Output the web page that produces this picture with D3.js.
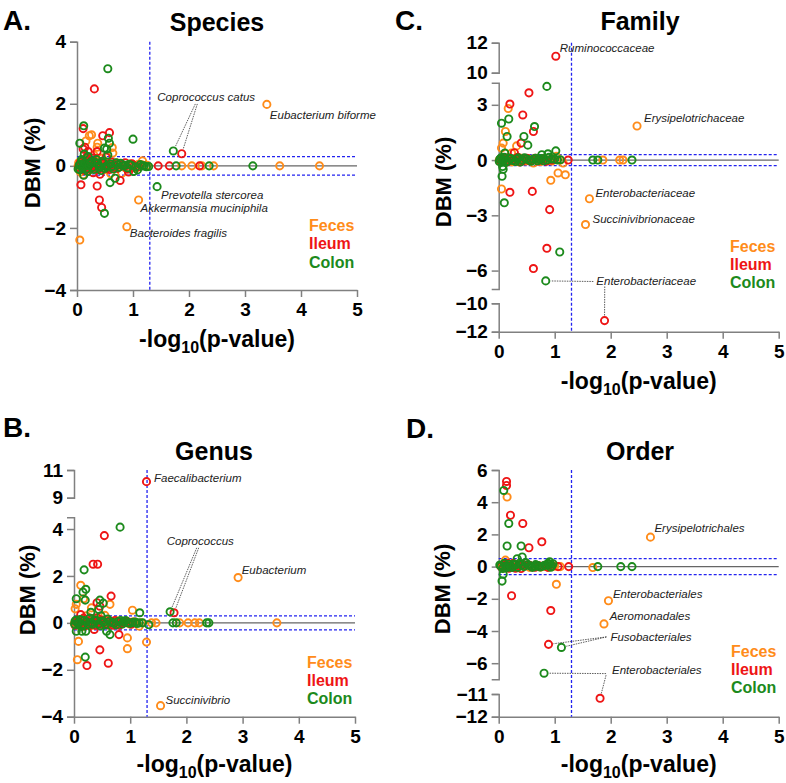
<!DOCTYPE html>
<html><head><meta charset="utf-8">
<script src="https://cdn.jsdelivr.net/npm/d3@7"></script>
<style>
body{margin:0;background:#fff}
svg{display:block}
text{font-family:Arial,"Liberation Sans",Helvetica,sans-serif}
</style>
</head><body>
<svg id="chart" width="786" height="783"></svg>
<script>
// ---------------- DATA ----------------
const seriesNames = ["Feces", "Ileum", "Colon"];
const seriesColors = ["#FF8C1A", "#EE1515", "#1C8A1C"];
const xTicks = [0, 1, 2, 3, 4, 5];
const pThreshold = 1.3;

// Panel A: Species  [ -log10(p), DBM ]
const speciesFeces = [[3.39,1.98],[1.1,-1.1],[0.89,-1.96],[0.05,-2.39],[1.17,0.16],[0.22,0.97],[0.26,1.0],[0.37,0.73],[0.36,0.6],[0.63,0.59],[0.64,0.41],[0.16,0.8],[1.87,0],[2.05,0],[2.23,0],[2.44,0],[3.62,0],[4.33,0],[1.16,0.03],[0.8,-0.24],[0.11,-0.29],[0.03,0.1],[0.08,-0.05],[0.14,0.12],[0.2,-0.15],[0.27,0.05],[0.33,-0.1],[0.42,0.08],[0.5,-0.12],[0.57,0.04],[0.7,0.1],[0.85,-0.05],[0.95,0.06],[1.05,-0.08],[1.25,0.02],[0.18,0.22],[0.45,0.25],[0.06,-0.2],[0.6,-0.25],[0.3,0.35],
  [0.02,0.0],[0.07,0.08],[0.1,-0.12],[0.13,0.0],[0.17,-0.08],[0.24,0.12],[0.29,-0.02],[0.31,0.15],[0.4,-0.05],[0.47,0.0],[0.53,0.1],[0.66,-0.06],[0.76,0.02],[0.9,-0.1],[1.0,0.02],[1.1,0.05]];
const speciesIleum = [[0.31,2.48],[1.87,0.39],[0.11,1.2],[0.46,0.97],[0.58,1.07],[0.2,0.46],[0.36,0.46],[0.11,0.54],[0.18,0.3],[1.45,0],[1.65,0],[2.19,0],[0.07,-0.61],[0.36,-0.65],[0.4,-1.1],[0.44,-1.34],[0.77,-0.47],[0.92,-0.2],[0.29,-0.22],[0.41,-0.27],[0.05,0.05],[0.12,-0.1],[0.16,0.15],[0.22,-0.05],[0.25,0.1],[0.33,0.02],[0.38,-0.12],[0.48,0.06],[0.55,-0.08],[0.62,0.12],[0.68,-0.04],[0.74,0.05],[0.82,0.03],[0.9,-0.1],[0.98,0.07],[1.1,-0.03],[0.14,0.6],[0.27,0.25],[0.52,0.28],
  [0.03,-0.05],[0.06,0.12],[0.09,0.0],[0.14,-0.15],[0.19,0.05],[0.21,0.18],[0.24,-0.1],[0.3,0.06],[0.35,-0.05],[0.43,0.12],[0.5,0.0],[0.58,-0.12],[0.65,0.04],[0.72,-0.08],[0.86,0.1],[1.02,0.0]];
const speciesColon = [[0.55,3.13],[1.72,0.48],[1.43,-0.67],[0.12,1.29],[0.56,0.89],[0.58,0.73],[1.0,0.86],[0.05,0.73],[0.49,0.57],[0.53,0.54],[0.55,0.35],[0.13,0.38],[1.77,0],[2.36,0],[3.14,0],[1.01,-0.18],[1.24,-0.03],[1.2,0],[1.28,-0.02],[1.08,-0.13],[0.59,-0.54],[0.68,-0.4],[0.49,-1.53],[0.05,-0.13],[0.04,0.02],[0.09,0.15],[0.1,-0.08],[0.15,0.05],[0.19,-0.18],[0.23,0.08],[0.28,-0.05],[0.32,0.12],[0.39,0.0],[0.43,-0.15],[0.47,0.1],[0.52,-0.02],[0.6,0.06],[0.65,-0.1],[0.72,0.03],[0.78,0.08],[0.86,0.02],[0.93,0.05],[1.13,0.04],[0.2,0.3],[0.12,-0.3],[0.35,0.2],
  [0.02,-0.1],[0.06,0.05],[0.08,0.2],[0.11,-0.02],[0.14,0.1],[0.17,-0.1],[0.21,0.0],[0.26,0.15],[0.3,-0.12],[0.37,0.08],[0.41,-0.05],[0.45,0.15],[0.5,-0.08],[0.55,0.02],[0.62,-0.02],[0.7,0.1],[0.75,-0.05],[0.82,0.0],[0.9,-0.06],[0.97,0.02],[1.05,-0.04],[1.17,0.0]];

// Panel B: Genus
const genusFeces = [[2.92,1.93],[1.54,-3.53],[0.12,1.6],[0.17,1.03],[0.04,0.79],[0.02,0.6],[0.64,0.79],[0.31,0.64],[1.04,0.54],[1.29,-0.82],[0.08,-0.79],[0.95,-0.64],[0.95,-1.1],[0.06,-1.57],[1.16,-0.14],[1.38,0],[1.46,0],[1.88,0],[2.03,0],[2.15,0],[2.23,0],[3.61,0],[0.03,0.05],[0.08,-0.1],[0.13,0.12],[0.19,-0.05],[0.25,0.08],[0.3,-0.12],[0.36,0.04],[0.42,0.15],[0.5,-0.06],[0.58,0.1],[0.66,-0.03],[0.74,0.06],[0.82,-0.08],[0.9,0.03],[1.0,-0.05],[1.1,0.02],[0.22,0.3],[0.55,0.32],
  [0.01,0.0],[0.05,0.12],[0.1,0.0],[0.16,-0.15],[0.21,0.05],[0.27,-0.03],[0.33,0.1],[0.39,-0.08],[0.45,0.02],[0.53,0.05],[0.62,-0.1],[0.7,0.0],[0.78,0.08],[0.86,-0.02],[0.95,0.0],[1.06,0.05],[1.2,0.0]];
const genusIleum = [[1.29,10.16],[0.54,3.72],[0.34,2.5],[0.42,2.5],[0.66,1.14],[0.41,0.86],[0.46,0.71],[1.78,0.43],[0.46,-1.15],[0.8,-0.5],[0.23,-1.82],[0.61,-1.72],[0.05,0.02],[0.1,-0.08],[0.15,0.1],[0.2,-0.12],[0.26,0.05],[0.32,0.18],[0.38,-0.1],[0.44,0.06],[0.5,0.12],[0.56,-0.05],[0.63,0.08],[0.7,-0.1],[0.77,0.04],[0.85,-0.02],[0.93,0.06],[1.02,-0.06],[0.12,0.35],[0.36,-0.28],
  [0.02,-0.1],[0.07,0.08],[0.12,-0.02],[0.17,0.2],[0.23,0.0],[0.29,-0.08],[0.34,0.05],[0.41,0.22],[0.47,-0.05],[0.53,0.0],[0.6,-0.08],[0.67,0.04],[0.73,0.1],[0.8,-0.1],[0.88,0.0],[0.97,0.04]];
const genusColon = [[0.82,4.08],[0.18,2.26],[0.21,1.43],[0.16,1.31],[0.04,1.03],[0.2,0.97],[0.46,0.97],[0.52,0.84],[0.44,0.57],[1.17,0.43],[1.71,0.47],[1.76,0],[1.82,0],[2.36,0],[2.4,0],[1.33,-0.08],[1.22,0],[0.04,-0.36],[0.14,-0.36],[0.21,-0.36],[0.58,-0.36],[0.64,-0.5],[0.2,-1.46],[0.02,0.08],[0.07,-0.04],[0.11,0.14],[0.16,-0.1],[0.22,0.05],[0.28,0.2],[0.33,-0.06],[0.4,0.1],[0.47,-0.12],[0.53,0.04],[0.6,0.16],[0.68,0.02],[0.75,-0.08],[0.83,0.1],[0.88,0.05],[0.96,0.0],[1.05,0.02],[1.12,-0.03],[0.3,0.45],[0.48,0.3],
  [0.01,-0.05],[0.04,0.12],[0.09,0.0],[0.13,-0.15],[0.18,0.1],[0.25,-0.05],[0.31,0.0],[0.36,0.12],[0.43,-0.05],[0.5,0.08],[0.56,-0.06],[0.63,0.05],[0.71,-0.02],[0.79,0.06],[0.86,-0.05],[0.92,0.1],[1.0,-0.02],[1.09,0.03],[1.16,0.0]];

// Panel C: Family
const familyFeces = [[2.47,1.85],[1.62,-2.1],[1.55,-3.5],[0.17,2.8],[0.12,1.55],[0.08,0.92],[0.05,0.65],[0.32,0.77],[0.23,0.38],[1.03,0.2],[1.15,-0.16],[1.06,-0.7],[1.19,-0.8],[0.93,-1.1],[0.05,-1.57],[1.86,0],[2.16,0],[2.22,0],[0.62,-0.16],[0.03,0.05],[0.09,-0.08],[0.15,0.1],[0.2,-0.04],[0.27,0.06],[0.36,-0.1],[0.44,0.04],[0.52,0.08],[0.7,-0.05],[0.8,0.05],[0.9,-0.02],[0.98,0.1],
  [0.01,0.0],[0.06,0.12],[0.11,0.0],[0.18,0.08],[0.24,-0.1],[0.31,0.0],[0.4,0.1],[0.48,-0.05],[0.57,0.0],[0.65,0.06],[0.75,-0.08],[0.85,0.02],[0.95,-0.05],[1.1,0.0]];
const familyIleum = [[1.02,11.1],[0.54,3.65],[0.2,3.04],[0.43,2.45],[0.62,1.55],[0.4,0.92],[1.24,0],[0.2,-1.75],[0.6,-1.7],[0.91,-2.69],[0.86,-4.79],[0.62,-5.89],[1.89,-11.22],[0.06,0.03],[0.12,-0.06],[0.18,0.12],[0.25,0.0],[0.31,0.08],[0.38,-0.1],[0.47,0.05],[0.55,-0.04],[0.65,0.1],[0.75,0.02],[0.85,-0.06],[0.28,0.4],
  [0.03,-0.04],[0.09,0.1],[0.15,-0.1],[0.21,0.05],[0.28,0.0],[0.34,0.15],[0.42,-0.05],[0.5,0.1],[0.6,0.0],[0.7,-0.05],[0.8,0.08],[0.95,0.0]];
const familyColon = [[0.86,4.0],[0.18,2.23],[0.05,2.0],[0.64,1.82],[0.15,1.28],[0.45,1.28],[0.52,0.81],[1.02,0.5],[0.88,0.34],[0.77,0.29],[0.11,0.38],[1.68,0],[1.77,0],[2.38,0],[0.06,-0.88],[0.07,-0.35],[0.1,-2.32],[1.09,-4.99],[0.84,-6.56],[0.02,0.04],[0.07,-0.1],[0.1,0.15],[0.16,-0.05],[0.22,0.08],[0.3,-0.08],[0.35,0.12],[0.42,0.02],[0.5,0.06],[0.58,-0.06],[0.66,0.1],[0.72,0.04],[0.8,-0.04],[0.94,0.06],[1.05,0.0],[0.08,-0.5],
  [0.01,-0.08],[0.04,0.12],[0.09,0.0],[0.13,-0.12],[0.19,0.1],[0.25,-0.02],[0.33,0.05],[0.39,-0.1],[0.46,0.12],[0.54,0.0],[0.62,0.05],[0.69,-0.04],[0.77,0.08],[0.86,0.0],[0.9,0.15],[1.0,0.05],[1.1,0.02]];

// Panel D: Order
const orderFeces = [[2.71,1.83],[1.96,-2.12],[1.88,-3.56],[0.15,4.32],[0.12,0.4],[1.03,-1.1],[1.68,-0.06],[1.1,0],[0.6,0.0],[0.05,0.05],[0.1,-0.08],[0.2,0.1],[0.3,-0.05],[0.45,0.06],[0.75,-0.03],[0.92,0.04],
  [0.08,0.12],[0.16,-0.05],[0.25,0.0],[0.38,0.1],[0.55,-0.05],[0.85,0.0],[1.0,0.03]];
const orderIleum = [[0.14,5.29],[0.14,5.04],[0.21,3.19],[0.43,2.68],[0.77,1.54],[0.54,1.17],[1.06,0],[1.25,0],[0.23,-1.81],[0.93,-2.73],[0.89,-4.83],[1.81,-11.19],[0.04,0.0],[0.12,0.12],[0.18,-0.1],[0.26,0.2],[0.35,0.05],[0.4,-0.12],[0.55,0.08],[0.65,-0.04],[0.82,0.06],[0.95,0.02],
  [0.08,-0.08],[0.16,0.2],[0.22,0.02],[0.3,-0.1],[0.46,0.1],[0.6,0.0],[0.72,0.05],[0.88,-0.05]];
const orderColon = [[0.09,4.73],[0.18,2.68],[0.15,1.28],[0.4,1.28],[0.33,0.49],[0.42,0.6],[0.91,0.3],[0.88,0.2],[1.77,0],[2.18,0],[2.38,0],[0.06,-0.9],[0.08,-0.47],[1.12,-5.02],[0.81,-6.62],[0.02,0.1],[0.07,-0.12],[0.13,0.05],[0.19,0.15],[0.24,-0.06],[0.3,0.1],[0.37,0.2],[0.45,0.0],[0.52,0.12],[0.6,-0.05],[0.7,0.06],[0.78,0.02],[0.85,0.1],[0.95,0.05],[0.64,0.0],
  [0.04,0.05],[0.1,0.2],[0.16,-0.05],[0.21,0.0],[0.27,0.15],[0.34,-0.05],[0.41,0.1],[0.48,0.25],[0.56,0.05],[0.66,0.12],[0.74,-0.02],[0.82,0.08],[0.9,0.15],[0.93,-0.04],[0.97,0.18]];

// y tick labels per axis segment
const speciesTicks = [[-4,-2,0,2,4]];
const genusTicks = [[9,11],[-4,-2,0,2,4]];
const familyTicks = [[10,12],[-6,-3,0,3],[-12,-10]];
const orderTicks = [[-6,-4,-2,0,2,4,6],[-12,-11]];

// annotation labels
const speciesNotes = [
  {t:"Coprococcus catus", at:[1.72,0.48], links:[[1.72,0.48],[1.87,0.39]]},
  {t:"Eubacterium biforme", at:[3.39,1.98]},
  {t:"Prevotella stercorea", at:[1.43,-0.67]},
  {t:"Akkermansia muciniphila", at:[1.1,-1.1]},
  {t:"Bacteroides fragilis", at:[0.89,-1.96]}
];
const genusNotes = [
  {t:"Faecalibacterium", at:[1.29,10.16]},
  {t:"Coprococcus", at:[1.71,0.47], links:[[1.71,0.47],[1.78,0.43]]},
  {t:"Eubacterium", at:[2.92,1.93]},
  {t:"Succinivibrio", at:[1.54,-3.53]}
];
const familyNotes = [
  {t:"Ruminococcaceae", at:[1.02,11.1]},
  {t:"Erysipelotrichaceae", at:[2.47,1.85]},
  {t:"Enterobacteriaceae", at:[1.62,-2.1]},
  {t:"Succinivibrionaceae", at:[1.55,-3.5]},
  {t:"Enterobacteriaceae", at:[0.84,-6.56], links:[[0.84,-6.56],[1.89,-11.22]]}
];
const orderNotes = [
  {t:"Erysipelotrichales", at:[2.71,1.83]},
  {t:"Enterobacteriales", at:[1.96,-2.12]},
  {t:"Aeromonadales", at:[1.88,-3.56]},
  {t:"Fusobacteriales", at:[1.12,-5.02], links:[[0.89,-4.83],[1.12,-5.02]]},
  {t:"Enterobacteriales", at:[0.81,-6.62], links:[[0.81,-6.62],[1.81,-11.19]]}
];

// ---------------- LAYOUT ----------------
const panels = [
  {letter:"A.", lx:3, ly:30, title:"Species", tx:217, ty:31, x0:77, x1:357,
   segs:[{d:[-4,4], r:[290,41.7]}], ticks:speciesTicks, thr:0.3, xlOff:57,
   ylx:32, yly:163, legX:309, legY:[230.5,248.5,267.5],
   data:[speciesFeces, speciesIleum, speciesColon], notes:speciesNotes,
   noteOff:[{dx:-16,dy:-50,from:[[38,3],[40,3]]},{dx:3,dy:15},{dx:4,dy:12},{dx:2,dy:12},{dx:3,dy:10}]},
  {letter:"B.", lx:3, ly:437, title:"Genus", tx:214, ty:460, x0:74, x1:355,
   segs:[{d:[9,11], r:[497.7,470]},{d:[-4,4.5], r:[716.7,517.3]}], ticks:genusTicks, thr:0.3, xlOff:55,
   ylx:27, yly:590, legX:307, legY:[668,685.5,704],
   data:[genusFeces, genusIleum, genusColon], notes:genusNotes,
   noteOff:[{dx:7.5,dy:0},{dx:-3.4,dy:-67,from:[[30,3],[32,3]]},{dx:3.6,dy:-4},{dx:5,dy:-1.5}]},
  {letter:"C.", lx:395, ly:30, title:"Family", tx:640, ty:30, x0:498.7, x1:778.7,
   segs:[{d:[10,12], r:[72.7,42.7]},{d:[-7,4.2], r:[289,82.7]},{d:[-12,-10], r:[331.7,303.3]}], ticks:familyTicks, thr:0.3, xlOff:57,
   ylx:443, yly:182, legX:730, legY:[252,270,288],
   data:[familyFeces, familyIleum, familyColon], notes:familyNotes,
   noteOff:[{dx:4,dy:-4},{dx:7,dy:-4},{dx:6,dy:-2},{dx:7,dy:-2},{dx:50.6,dy:4.6,from:[[-3,-4],[8.4,1]]}]},
  {letter:"D.", lx:406, ly:438, title:"Order", tx:640, ty:460, x0:498.7, x1:778.7,
   segs:[{d:[-7,6], r:[679.3,470]},{d:[-12,-11], r:[716.7,694]}], ticks:orderTicks, thr:0.5, xlOff:55,
   ylx:442, yly:589, legX:731, legY:[656.5,674.5,693],
   data:[orderFeces, orderIleum, orderColon], notes:orderNotes,
   noteOff:[{dx:4,dy:-5},{dx:4.5,dy:-3},{dx:5.7,dy:-4},{dx:49,dy:-6,from:[[-4,-4.5],[-4,-4.5]]},{dx:68,dy:1,from:[[-6,-0.6],[-6,1]]}]}
];

const svg = d3.select("#chart");
const AXIS = "#808080";
const FONT = 'Arial,"Liberation Sans",sans-serif';

panels.forEach(p => {
  const g = svg.append("g");
  const x = d3.scaleLinear().domain([0,5]).range([p.x0, p.x1]);
  const segScales = p.segs.map(s => d3.scaleLinear().domain(s.d).range(s.r));
  const y = v => {
    for (let i = 0; i < p.segs.length; i++) {
      const s = p.segs[i];
      if (v >= s.d[0] - 1e-9 && v <= s.d[1] + 1e-9) return segScales[i](v);
    }
    let best = 0, bd = Infinity;
    p.segs.forEach((s, i) => { const dd = Math.min(Math.abs(v - s.d[0]), Math.abs(v - s.d[1])); if (dd < bd) { bd = dd; best = i; } });
    return segScales[best](v);
  };
  const yTop = d3.min(p.segs, s => s.r[1]);
  const yBot = d3.max(p.segs, s => s.r[0]);

  g.append("text").attr("x", p.lx).attr("y", p.ly).attr("font-size", 28).attr("font-weight", "bold").text(p.letter);
  g.append("text").attr("x", p.tx).attr("y", p.ty).attr("font-size", 25).attr("font-weight", "bold")
    .attr("text-anchor", "middle").text(p.title);

  segScales.forEach((sc, i) => {
    const ax = g.append("g").attr("transform", `translate(${p.x0},0)`)
      .call(d3.axisLeft(sc).tickValues(p.ticks[i]).tickSize(7).tickSizeOuter(7).tickPadding(4).tickFormat(d3.format("d")));
    ax.selectAll("path,line").attr("stroke", AXIS).attr("stroke-width", 1.5);
    ax.selectAll("text").attr("font-size", 19).attr("font-weight", "bold").attr("fill", "#000").attr("font-family", FONT);
  });

  const xa = g.append("g").attr("transform", `translate(0,${yBot})`)
    .call(d3.axisBottom(x).tickValues(xTicks).tickSize(7).tickSizeOuter(0).tickPadding(6).tickFormat(d3.format("d")));
  xa.selectAll("path,line").attr("stroke", AXIS).attr("stroke-width", 1.5);
  xa.selectAll("text").attr("font-size", 19).attr("font-weight", "bold").attr("fill", "#000").attr("font-family", FONT);

  const xl = g.append("text").attr("x", (p.x0 + p.x1) / 2).attr("y", yBot + p.xlOff)
    .attr("text-anchor", "middle").attr("font-size", 23).attr("font-weight", "bold");
  xl.append("tspan").text("-log");
  xl.append("tspan").attr("font-size", 16).attr("dy", 6).text("10");
  xl.append("tspan").attr("dy", -6).text("(p-value)");
  g.append("text").attr("transform", `translate(${p.ylx},${p.yly}) rotate(-90)`)
    .attr("text-anchor", "middle").attr("dominant-baseline", "central")
    .attr("font-size", 22).attr("font-weight", "bold").text("DBM (%)");

  g.append("line").attr("x1", x(0)).attr("x2", x(5)).attr("y1", y(0)).attr("y2", y(0))
    .attr("stroke", "#666").attr("stroke-width", 1.2);
  const dash = {"stroke": "#2323F0", "stroke-width": 1.3, "stroke-dasharray": "3,2", "fill": "none"};
  [p.thr, -p.thr].forEach(t => {
    const l = g.append("line").attr("x1", x(0)).attr("x2", x(5)).attr("y1", y(t)).attr("y2", y(t));
    Object.entries(dash).forEach(([k, v]) => l.attr(k, v));
  });
  const vl = g.append("line").attr("x1", x(pThreshold)).attr("x2", x(pThreshold)).attr("y1", yTop).attr("y2", yBot);
  Object.entries(dash).forEach(([k, v]) => vl.attr(k, v));

  p.data.forEach((arr, si) => {
    g.append("g").selectAll("circle").data(arr).enter().append("circle")
      .attr("cx", d => x(d[0])).attr("cy", d => y(d[1])).attr("r", 3.6)
      .attr("fill", "none").attr("stroke", seriesColors[si]).attr("stroke-width", 1.9);
  });

  p.notes.forEach((n, i) => {
    const o = p.noteOff[i];
    const tx = x(n.at[0]) + o.dx, ty = y(n.at[1]) + o.dy;
    g.append("text").attr("x", tx).attr("y", ty).attr("font-size", 11.5).attr("font-style", "italic")
      .attr("fill", "#222").text(n.t);
    if (n.links) {
      n.links.forEach((pt, j) => {
        const fx = tx + o.from[j][0], fy = ty + o.from[j][1];
        const px = x(pt[0]), py = y(pt[1]);
        const len = Math.hypot(px - fx, py - fy);
        const k = (len - 5) / len;
        g.append("line").attr("x1", fx).attr("y1", fy)
          .attr("x2", fx + (px - fx) * k).attr("y2", fy + (py - fy) * k)
          .attr("stroke", "#333").attr("stroke-width", 0.8).attr("stroke-dasharray", "1.5,1");
      });
    }
  });

  seriesNames.forEach((nm, i) => {
    g.append("text").attr("x", p.legX).attr("y", p.legY[i]).attr("font-size", 16).attr("font-weight", "bold")
      .attr("fill", seriesColors[i]).text(nm);
  });
});
</script>
</body></html>
